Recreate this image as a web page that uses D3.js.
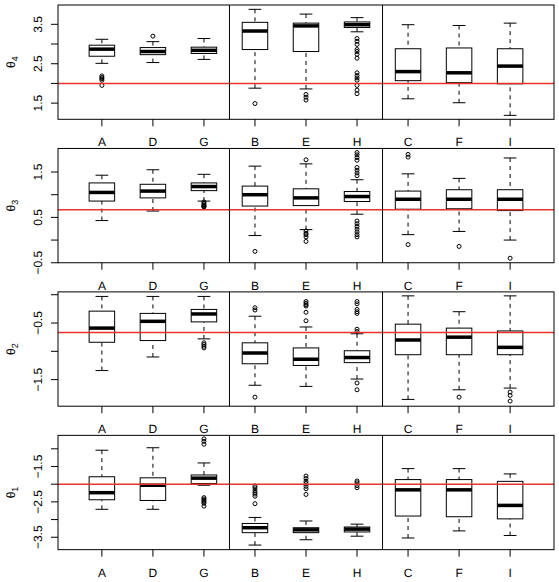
<!DOCTYPE html>
<html>
<head>
<meta charset="utf-8">
<script src="https://cdn.jsdelivr.net/npm/d3@7/dist/d3.min.js"></script>
<style>
  html, body { margin: 0; padding: 0; background: #fff; }
  svg { display: block; }
  text { font-family: "Liberation Sans", Arial, Helvetica, sans-serif; fill: #000; -webkit-font-smoothing: antialiased; }
</style>
</head>
<body>
<svg id="chart" width="559" height="582" text-rendering="geometricPrecision"></svg>
<script>
// ---------- data ----------
const categories = ["A", "D", "G", "B", "E", "H", "C", "F", "I"];
const groupBreaks = [3.5, 6.5];
const panelSubscripts = ["4", "3", "2", "1"];
const refValues = [2, 0.667, -0.667, -2];
const yDomains = [[1.09, 3.99], [-0.50, 2.02], [-1.97, 0.05], [-3.85, -0.62]];
const yTicks = [[1.5, 2, 2.5, 3, 3.5], [-0.5, 0, 0.5, 1, 1.5], [-1.5, -1, -0.5, 0], [-3.5, -3, -2.5, -2, -1.5, -1]];
const yTickLabels = [[1.5, 2.5, 3.5], [-0.5, 0.5, 1.5], [-1.5, -0.5], [-3.5, -2.5, -1.5]];

// box stats per category: [lower whisker, Q1, median, Q3, upper whisker]
const theta4Stats = [
  [2.51, 2.69, 2.87, 2.97, 3.12], [2.53, 2.73, 2.81, 2.91, 3.06], [2.61, 2.76, 2.84, 2.92, 3.14],
  [1.88, 2.86, 3.33, 3.55, 3.88], [1.86, 2.81, 3.46, 3.53, 3.76], [3.31, 3.42, 3.49, 3.56, 3.67],
  [1.61, 2.07, 2.30, 2.88, 3.49], [1.51, 2.02, 2.27, 2.90, 3.47], [1.19, 1.99, 2.44, 2.88, 3.53]
];
const theta4Outliers = [
  [2.19, 2.15, 2.12, 2.08, 1.95], [3.20], [],
  [1.49], [1.72, 1.65, 1.58], [3.14, 3.07, 2.99, 2.86, 2.81, 2.74, 2.64, 2.27, 2.20, 2.14, 2.08, 1.95, 1.83, 1.74],
  [], [], []
];
const theta3Stats = [
  [0.43, 0.86, 1.05, 1.26, 1.43], [0.64, 0.93, 1.08, 1.23, 1.55], [0.86, 1.09, 1.18, 1.26, 1.45],
  [0.10, 0.75, 1.00, 1.19, 1.63], [0.23, 0.76, 0.93, 1.13, 1.68], [0.57, 0.85, 0.96, 1.07, 1.33],
  [0.12, 0.68, 0.90, 1.08, 1.46], [0.19, 0.69, 0.90, 1.11, 1.36], [0.00, 0.65, 0.90, 1.11, 1.81]
];
const theta3Outliers = [
  [], [], [0.84, 0.81, 0.78, 0.76, 0.74, 0.73],
  [-0.25], [1.77, 0.20, 0.15, 0.12, 0.07, -0.03],
  [1.93, 1.88, 1.82, 1.76, 1.60, 1.54, 1.48, 1.42, 0.42, 0.36, 0.30, 0.24, 0.18, 0.12, 0.07],
  [1.89, 1.83, -0.10], [-0.14], [-0.40]
];
const theta2Stats = [
  [-1.34, -0.84, -0.59, -0.29, -0.03], [-1.10, -0.81, -0.47, -0.33, -0.03], [-0.78, -0.48, -0.34, -0.26, -0.03],
  [-1.60, -1.22, -1.03, -0.85, -0.38], [-1.62, -1.25, -1.14, -0.94, -0.57], [-1.49, -1.20, -1.11, -0.99, -0.69],
  [-1.85, -1.06, -0.80, -0.52, -0.02], [-1.68, -1.06, -0.75, -0.59, -0.30], [-1.65, -1.06, -0.93, -0.64, -0.02]
];
const theta2Outliers = [
  [], [], [-0.85, -0.88, -0.91, -0.94],
  [-0.23, -0.27, -1.81], [-0.12, -0.15, -0.18, -0.20, -0.31, -0.46],
  [-0.12, -0.16, -0.26, -0.30, -0.33, -0.61, -0.65, -1.56, -1.68],
  [], [-1.81], [-1.72, -1.78, -1.88]
];
const theta1Stats = [
  [-2.71, -2.44, -2.24, -1.79, -1.04], [-2.71, -2.46, -2.03, -1.82, -0.97], [-2.03, -1.98, -1.83, -1.74, -1.40],
  [-3.72, -3.37, -3.23, -3.11, -2.94], [-3.57, -3.37, -3.29, -3.23, -3.04], [-3.47, -3.35, -3.27, -3.21, -3.13],
  [-3.52, -2.90, -2.16, -1.87, -1.56], [-3.32, -2.92, -2.16, -1.87, -1.56], [-3.45, -2.98, -2.60, -1.92, -1.71]
];
const theta1Outliers = [
  [], [], [-0.72, -0.79, -0.87, -2.38, -2.42, -2.46, -2.50, -2.54, -2.62],
  [-2.05, -2.10, -2.17, -2.23, -2.28, -2.34, -2.55], [-1.77, -1.84, -1.92, -1.98, -2.06, -2.13, -2.29],
  [-1.91, -1.96, -2.04, -2.10],
  [], [], []
];
const panelStats = [theta4Stats, theta3Stats, theta2Stats, theta1Stats];
const panelOutliers = [theta4Outliers, theta3Outliers, theta2Outliers, theta1Outliers];

// ---------- layout ----------
const svg = d3.select("#chart");
const left = 58, right = 554;
const panelTop0 = 5, panelStep = 143.45, panelH = 114.3;
const boxW = 0.5, tickLen = 7;
const fmt = v => (v < 0 ? "\u2212" : "") + Math.abs(v).toFixed(1);

const x = d3.scaleLinear().domain([0.14, 9.86]).range([left, right]);

panelStats.forEach((stats, p) => {
  const top = panelTop0 + p * panelStep, bottom = top + panelH;
  const y = d3.scaleLinear().domain(yDomains[p]).range([bottom, top]);
  const g = svg.append("g");

  // boxes
  stats.forEach((s, i) => {
    const cx = x(i + 1);
    const hw = x(i + 1 + boxW / 2) - cx;
    const sw = hw / 2;
    const bg = g.append("g");
    bg.append("line").attr("x1", cx).attr("x2", cx).attr("y1", y(s[0])).attr("y2", y(s[1]))
      .attr("stroke", "#000").attr("stroke-width", 1).attr("stroke-dasharray", "4,4");
    bg.append("line").attr("x1", cx).attr("x2", cx).attr("y1", y(s[4])).attr("y2", y(s[3]))
      .attr("stroke", "#000").attr("stroke-width", 1).attr("stroke-dasharray", "4,4");
    [s[0], s[4]].forEach(v => {
      bg.append("line").attr("x1", cx - sw).attr("x2", cx + sw).attr("y1", y(v)).attr("y2", y(v))
        .attr("stroke", "#000").attr("stroke-width", 1);
    });
    bg.append("rect").attr("x", cx - hw).attr("y", y(s[3])).attr("width", 2 * hw)
      .attr("height", Math.max(0.5, y(s[1]) - y(s[3])))
      .attr("fill", "#fff").attr("stroke", "#000").attr("stroke-width", 1);
    bg.append("line").attr("x1", cx - hw).attr("x2", cx + hw).attr("y1", y(s[2])).attr("y2", y(s[2]))
      .attr("stroke", "#000").attr("stroke-width", 3.5);
    panelOutliers[p][i].forEach(v => {
      bg.append("circle").attr("cx", cx).attr("cy", y(v)).attr("r", 2)
        .attr("fill", "none").attr("stroke", "#000").attr("stroke-width", 1);
    });
  });

  // reference line
  g.append("line").attr("x1", left).attr("x2", right).attr("y1", y(refValues[p])).attr("y2", y(refValues[p]))
    .attr("stroke", "#e8322e").attr("stroke-width", 1.4);

  // group separators
  groupBreaks.forEach(b => {
    g.append("line").attr("x1", x(b)).attr("x2", x(b)).attr("y1", top).attr("y2", bottom)
      .attr("stroke", "#000").attr("stroke-width", 1);
  });

  // frame
  g.append("rect").attr("x", left).attr("y", top).attr("width", right - left).attr("height", panelH)
    .attr("fill", "none").attr("stroke", "#000").attr("stroke-width", 1);

  // y axis ticks
  yTicks[p].forEach(t => {
    g.append("line").attr("x1", left - tickLen).attr("x2", left).attr("y1", y(t)).attr("y2", y(t))
      .attr("stroke", "#000").attr("stroke-width", 1);
  });
  yTickLabels[p].forEach(t => {
    g.append("text").attr("transform", `translate(42,${y(t)}) rotate(-90)`)
      .attr("text-anchor", "middle").attr("font-size", 12).text(fmt(t));
  });

  // x axis ticks
  categories.forEach((c, i) => {
    const cx = x(i + 1);
    g.append("line").attr("x1", cx).attr("x2", cx).attr("y1", bottom).attr("y2", bottom + tickLen)
      .attr("stroke", "#000").attr("stroke-width", 1);
    g.append("text").attr("x", cx).attr("y", bottom + 27).attr("text-anchor", "middle")
      .attr("font-size", 12).text(c);
  });

  // y label
  const lab = g.append("text").attr("transform", `translate(15,${(top + bottom) / 2}) rotate(-90)`)
    .attr("text-anchor", "middle").attr("font-size", 12);
  lab.append("tspan").text("\u03B8");
  lab.append("tspan").attr("font-size", 9).attr("dy", 3).text(panelSubscripts[p]);
});
</script>
</body>
</html>
